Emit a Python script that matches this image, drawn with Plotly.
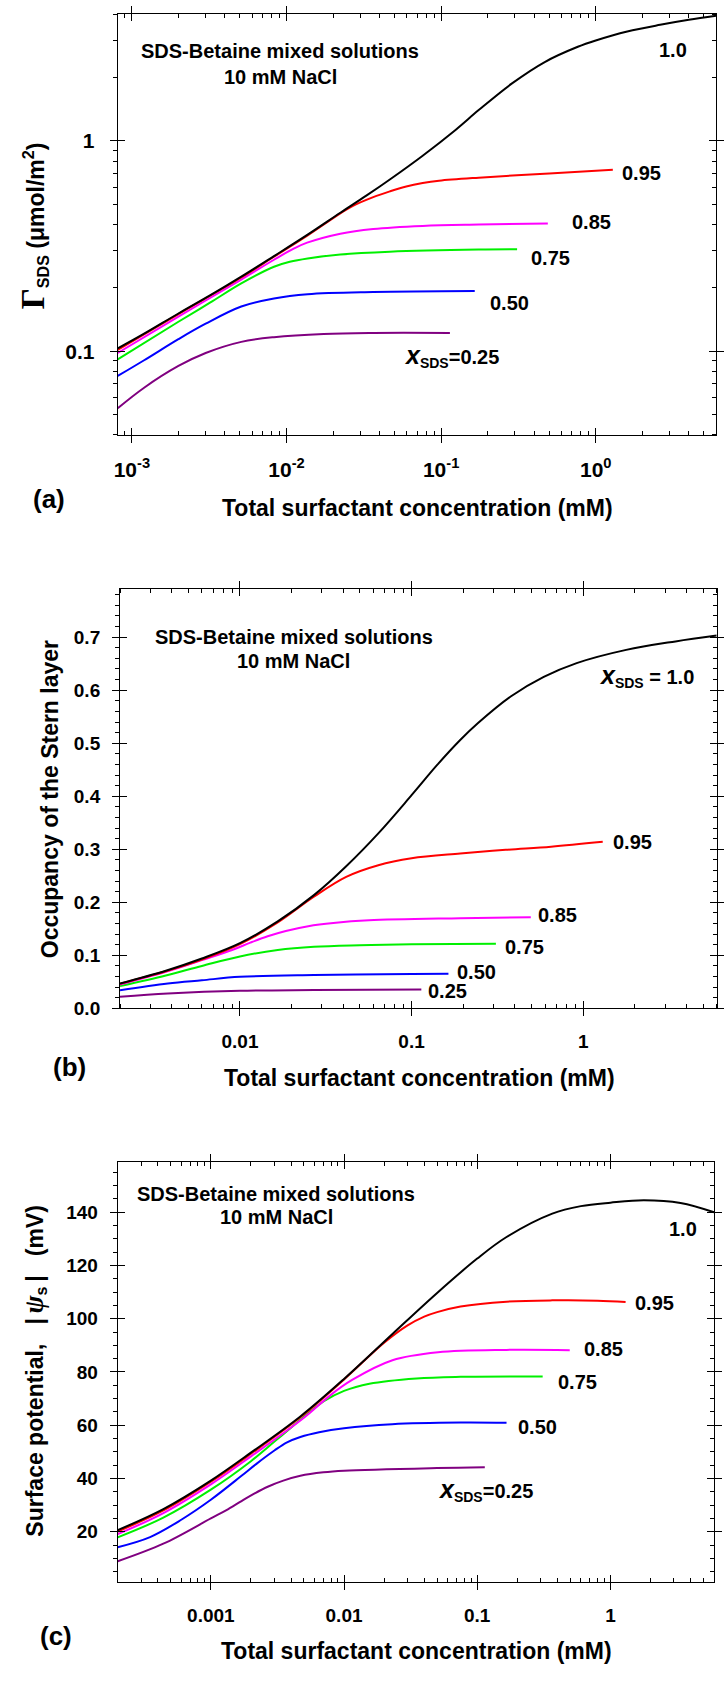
import math
import plotly.graph_objects as go

W, H = 724, 1686
FONT = "Liberation Sans, Arial, Helvetica, sans-serif"
SERIF = "Liberation Serif, Times New Roman, serif"

# ---------------- data ----------------
series_labels = ["1.0", "0.95", "0.85", "0.75", "0.50", "0.25"]
series_colors = ["#000000", "#ff0000", "#ff00ff", "#00f000", "#0000ff", "#800080"]

# Panel (a): surface excess of SDS, Gamma_SDS (umol/m^2) vs total concentration (mM)
a_x_100 = [0.00081, 0.0012, 0.002, 0.0032, 0.0051, 0.0083, 0.0137, 0.0223, 0.033, 0.0466,
           0.076, 0.1245, 0.175, 0.286, 0.468, 0.766, 1.0, 1.6, 2.61, 4.0, 6.0]
a_y_100 = [0.103, 0.121, 0.151, 0.184, 0.226, 0.283, 0.358, 0.455, 0.550, 0.655,
           0.850, 1.13, 1.40, 1.87, 2.37, 2.80, 3.0, 3.31, 3.56, 3.76, 3.93]
a_x_95 = [0.00081, 0.002, 0.0051, 0.0083, 0.0137, 0.0223, 0.0271, 0.0364, 0.0466, 0.0595,
          0.076, 0.097, 0.175, 0.5, 1.29]
a_y_95 = [0.1015, 0.150, 0.224, 0.281, 0.355, 0.452, 0.492, 0.540, 0.575, 0.607,
          0.630, 0.646, 0.668, 0.700, 0.729]
a_x_85 = [0.00081, 0.002, 0.0051, 0.0083, 0.0112, 0.0136, 0.0223, 0.0364, 0.076, 0.175, 0.49]
a_y_85 = [0.098, 0.146, 0.219, 0.272, 0.308, 0.328, 0.362, 0.381, 0.394, 0.400, 0.405]
a_x_75 = [0.00081, 0.002, 0.0032, 0.0051, 0.0083, 0.0105, 0.0137, 0.0223, 0.0466, 0.175, 0.31]
a_y_75 = [0.0913, 0.138, 0.170, 0.210, 0.252, 0.266, 0.276, 0.288, 0.297, 0.304, 0.305]
a_x_50 = [0.00081, 0.0012, 0.002, 0.003, 0.0051, 0.0083, 0.0137, 0.0364, 0.165]
a_y_50 = [0.0762, 0.0905, 0.114, 0.135, 0.163, 0.178, 0.1865, 0.191, 0.193]
a_x_25 = [0.00081, 0.0012, 0.002, 0.003, 0.0051, 0.0083, 0.0174, 0.0364, 0.114]
a_y_25 = [0.0535, 0.067, 0.085, 0.098, 0.1107, 0.1165, 0.1207, 0.122, 0.122]

# Panel (b): occupancy of the Stern layer
b_x_100 = [0.002, 0.0037, 0.006, 0.01, 0.0166, 0.0271, 0.0416, 0.064, 0.1, 0.141, 0.192,
           0.244, 0.378, 0.589, 0.916, 1.78, 3.45, 6.0]
b_y_100 = [0.047, 0.071, 0.094, 0.123, 0.164, 0.214, 0.268, 0.330, 0.402, 0.459, 0.506,
           0.538, 0.588, 0.625, 0.651, 0.676, 0.692, 0.703]
b_x_95 = [0.002, 0.0037, 0.006, 0.01, 0.0166, 0.0271, 0.0416, 0.064, 0.1, 0.192, 0.354, 0.65, 1.3]
b_y_95 = [0.0465, 0.070, 0.092, 0.121, 0.162, 0.211, 0.248, 0.270, 0.283, 0.292, 0.299, 0.305, 0.314]
b_x_85 = [0.002, 0.0037, 0.006, 0.009, 0.0115, 0.0145, 0.0185, 0.025, 0.035, 0.0565, 0.192, 0.495]
b_y_85 = [0.045, 0.069, 0.091, 0.110, 0.124, 0.136, 0.146, 0.155, 0.161, 0.166, 0.170, 0.172]
b_x_75 = [0.002, 0.0037, 0.006, 0.01, 0.0166, 0.027, 0.05, 0.1, 0.31]
b_y_75 = [0.042, 0.062, 0.080, 0.098, 0.110, 0.116, 0.119, 0.121, 0.122]
b_x_50 = [0.002, 0.0038, 0.006, 0.01, 0.027, 0.1, 0.164]
b_y_50 = [0.0344, 0.047, 0.053, 0.0595, 0.063, 0.065, 0.0655]
b_x_25 = [0.002, 0.0038, 0.01, 0.027, 0.114]
b_y_25 = [0.022, 0.028, 0.0332, 0.0345, 0.0354]

# Panel (c): surface potential |psi_s| (mV)
c_x_100 = [0.0002, 0.00044, 0.001, 0.002, 0.0047, 0.01, 0.023, 0.05, 0.1, 0.166, 0.366,
           0.6, 1.0, 1.78, 3.36, 6.0]
c_y_100 = [20.6, 28.5, 39.2, 49.7, 63.3, 77.4, 94.2, 109.7, 122.6, 130.7, 139.5,
           142.3, 143.6, 144.5, 143.5, 140.0]
c_x_95 = [0.0002, 0.00044, 0.001, 0.002, 0.0047, 0.01, 0.02, 0.03, 0.04, 0.05, 0.075,
          0.166, 0.366, 0.8, 1.3]
c_y_95 = [20.1, 28.0, 38.8, 49.3, 63.0, 77.2, 91.0, 97.5, 100.8, 102.5, 104.6,
          106.4, 106.9, 106.8, 106.3]
c_x_85 = [0.0002, 0.00044, 0.001, 0.002, 0.005, 0.008, 0.0115, 0.0231, 0.0508, 0.166, 0.495]
c_y_85 = [19.1, 27.0, 37.8, 48.3, 62.8, 71.5, 77.0, 84.4, 87.4, 88.3, 88.2]
c_x_75 = [0.0002, 0.00044, 0.001, 0.002, 0.0032, 0.00705, 0.01, 0.0155, 0.035, 0.075, 0.31]
c_y_75 = [17.9, 25.3, 35.8, 46.5, 55.0, 69.0, 72.9, 75.6, 77.6, 78.2, 78.3]
c_x_50 = [0.0002, 0.00035, 0.0006, 0.001, 0.0017, 0.0022, 0.003, 0.0037, 0.0047, 0.0065,
          0.01, 0.023, 0.075, 0.166]
c_y_50 = [14.2, 18.0, 24.5, 32.0, 41.0, 45.5, 50.5, 53.5, 55.6, 57.4,
          58.9, 60.4, 61.0, 60.9]
c_x_25 = [0.0002, 0.00044, 0.001, 0.0013, 0.0017, 0.0021, 0.0027, 0.0035, 0.0047, 0.007,
          0.01, 0.05, 0.114]
c_y_25 = [8.9, 15.5, 25.0, 28.0, 31.5, 34.2, 37.0, 39.2, 41.0, 42.3,
          42.9, 43.9, 44.2]

# tick values / labels
a_xticks = [0.001, 0.01, 0.1, 1]
a_xtick_text = ["10<sup>-3</sup>", "10<sup>-2</sup>", "10<sup>-1</sup>", "10<sup>0</sup>"]
a_yticks = [0.1, 1]
a_ytick_text = ["0.1", "1"]
b_xticks = [0.01, 0.1, 1]
b_xtick_text = ["0.01", "0.1", "1"]
b_yticks = [0.0, 0.1, 0.2, 0.3, 0.4, 0.5, 0.6, 0.7]
b_ytick_text = ["0.0", "0.1", "0.2", "0.3", "0.4", "0.5", "0.6", "0.7"]
c_xticks = [0.001, 0.01, 0.1, 1]
c_xtick_text = ["0.001", "0.01", "0.1", "1"]
c_yticks = [20, 40, 60, 80, 100, 120, 140]
c_ytick_text = ["20", "40", "60", "80", "100", "120", "140"]

xtitle = "Total surfactant concentration (mM)"
info1 = "SDS-Betaine mixed solutions"
info2 = "10 mM NaCl"


# ---------------- helpers ----------------
def log_minor(lo, hi):
    out = []
    for e in range(-5, 2):
        for m in range(2, 10):
            v = m * 10.0 ** e
            if lo <= v <= hi:
                out.append(v)
    return out


def lin_minor(lo, hi, step):
    out = []
    k = 0
    while k * step <= hi + 1e-9:
        v = round(k * step, 6)
        if v >= lo:
            out.append(v)
        k += 1
    return out


fig = go.Figure()

panel_series = [
    [(a_x_25, a_y_25), (a_x_50, a_y_50), (a_x_75, a_y_75), (a_x_85, a_y_85), (a_x_95, a_y_95), (a_x_100, a_y_100)],
    [(b_x_25, b_y_25), (b_x_50, b_y_50), (b_x_75, b_y_75), (b_x_85, b_y_85), (b_x_95, b_y_95), (b_x_100, b_y_100)],
    [(c_x_25, c_y_25), (c_x_50, c_y_50), (c_x_75, c_y_75), (c_x_85, c_y_85), (c_x_95, c_y_95), (c_x_100, c_y_100)],
]
draw_colors = list(reversed(series_colors))

panels = [
    dict(xdom=(115, 720), ydom=(14.3, 437.7), xtype="log",
         xr=[math.log10(0.00081), math.log10(6.0)], ytype="log",
         yr=[math.log10(0.04), math.log10(4.0)],
         xt=a_xticks, xtt=a_xtick_text, yt=a_yticks, ytt=a_ytick_text,
         xmin=log_minor(0.0008, 6.0), ymin=log_minor(0.04, 4.0), fs=21, xso=9, yso=11),
    dict(xdom=(117.3, 720.7), ydom=(593.3, 1015), xtype="log",
         xr=[math.log10(0.002), math.log10(6.0)], ytype="linear", yr=[0, 0.79],
         xt=b_xticks, xtt=b_xtick_text, yt=b_yticks, ytt=b_ytick_text,
         xmin=log_minor(0.002, 6.0), ymin=lin_minor(0, 0.79, 0.02), fs=19, xso=9, yso=8),
    dict(xdom=(115, 718), ydom=(1169.3, 1592.7), xtype="log",
         xr=[math.log10(0.0002), math.log10(6.0)], ytype="linear", yr=[1, 159],
         xt=c_xticks, xtt=c_xtick_text, yt=c_yticks, ytt=c_ytick_text,
         xmin=log_minor(0.0002, 6.0), ymin=lin_minor(1, 159, 5), fs=19, xso=9, yso=8),
]

layout = dict(width=W, height=H, margin=dict(l=0, r=0, t=0, b=0),
              paper_bgcolor="white", plot_bgcolor="white", showlegend=False,
              font=dict(family=FONT, color="#000"))

common = dict(showgrid=False, zeroline=False, linecolor="#000", linewidth=1,
              tickcolor="#000", tickwidth=1)

for i, p in enumerate(panels):
    n = i + 1
    xr_name = "x" if n == 1 else f"x{n}"
    yr_name = "y" if n == 1 else f"y{n}"
    xkey = "xaxis" if n == 1 else f"xaxis{n}"
    ykey = "yaxis" if n == 1 else f"yaxis{n}"
    xdom = [p["xdom"][0] / W, p["xdom"][1] / W]
    ydom = [1 - p["ydom"][1] / H, 1 - p["ydom"][0] / H]
    tf = dict(family=FONT, size=p["fs"], color="#000", weight="bold")

    layout[xkey] = dict(domain=xdom, type=p["xtype"], range=p["xr"], anchor=yr_name,
                        tickmode="array", tickvals=p["xt"], ticktext=p["xtt"],
                        ticks="outside", ticklen=7, mirror="ticks", showline=True,
                        minor=dict(tickmode="array", tickvals=p["xmin"], ticks="inside",
                                   ticklen=4, tickcolor="#000", tickwidth=1, showgrid=False),
                        tickfont=tf, ticklabelstandoff=p["xso"], **common)
    layout[ykey] = dict(domain=ydom, type=p["ytype"], range=p["yr"], anchor=xr_name,
                        tickmode="array", tickvals=p["yt"], ticktext=p["ytt"],
                        ticks="outside", ticklen=7, mirror=True, showline=True,
                        minor=dict(tickmode="array", tickvals=p["ymin"], ticks="outside",
                                   ticklen=4, tickcolor="#000", tickwidth=1, showgrid=False),
                        tickfont=tf, ticklabelstandoff=p["yso"], **common)
    # overlay axes: major ticks crossing the frame, minor ticks inside on the right
    layout[f"xaxis{n + 3}"] = dict(overlaying=xr_name, anchor=yr_name, side="bottom",
                                   type=p["xtype"], range=p["xr"], tickmode="array",
                                   tickvals=p["xt"], ticks="inside", ticklen=7,
                                   mirror="ticks", showline=False, showticklabels=False,
                                   **common)
    layout[f"yaxis{n + 3}"] = dict(overlaying=yr_name, anchor=xr_name, side="left",
                                   type=p["ytype"], range=p["yr"], tickmode="array",
                                   tickvals=p["yt"], ticks="inside", ticklen=7,
                                   mirror="ticks", showline=False, showticklabels=False,
                                   **common)
    layout[f"yaxis{n + 6}"] = dict(overlaying=yr_name, anchor=xr_name, side="right",
                                   type=p["ytype"], range=p["yr"], tickmode="array",
                                   tickvals=p["yt"], ticks="outside", ticklen=7,
                                   showline=False, showticklabels=False,
                                   minor=dict(tickmode="array", tickvals=p["ymin"],
                                              ticks="inside", ticklen=4, tickcolor="#000",
                                              tickwidth=1, showgrid=False),
                                   **common)
    for xa, ya in [(f"x{n + 3}", yr_name), (xr_name, f"y{n + 3}"), (xr_name, f"y{n + 6}")]:
        fig.add_trace(go.Scatter(x=[None], y=[None], xaxis=xa, yaxis=ya, mode="lines",
                                 showlegend=False, hoverinfo="skip"))
    for (xs, ys), col in zip(panel_series[i], draw_colors):
        fig.add_trace(go.Scatter(x=xs, y=ys, mode="lines", xaxis=xr_name, yaxis=yr_name,
                                 line=dict(color=col, width=2, shape="spline", smoothing=1.0),
                                 showlegend=False, hoverinfo="skip"))

annotations = []


def ann(text, x, y, size, xanchor="center", yanchor="middle", angle=0):
    annotations.append(dict(text=text, x=x / W, y=1 - y / H, xref="paper", yref="paper",
                            xanchor=xanchor, yanchor=yanchor, showarrow=False,
                            textangle=angle,
                            font=dict(family=FONT, size=size, color="#000", weight="bold")))


xsub = "<span style='font-size:25px'><i>x</i></span><sub>SDS</sub>"

# panel (a)
ann(info1, 279.5, 51.5, 20)
ann(info2, 280, 78, 20)
ann(series_labels[0], 676, 50, 20)
ann(series_labels[1], 644.5, 174, 20)
ann(series_labels[2], 594, 223, 20)
ann(series_labels[3], 553, 260, 20)
ann(series_labels[4], 511.5, 305, 20)
ann(xsub + "=" + series_labels[5], 503, 358, 20, xanchor="right")
ann("(a)", 46, 502, 26)
ann(xtitle, 418, 511, 23)
ann("<span style='font-family:" + SERIF + ";font-size:33px'>Γ</span><sub>SDS</sub> (μmol/m<sup>2</sup>)",
    30, 227, 23, angle=-90)

# panel (b)
ann(info1, 293, 641.5, 20)
ann(info2, 293, 665, 20)
ann(xsub + " = " + series_labels[0], 700, 680, 20, xanchor="right")
ann(series_labels[1], 635.5, 847.5, 20)
ann(series_labels[2], 560, 920.7, 20)
ann(series_labels[3], 526, 953, 20)
ann(series_labels[4], 478, 978.6, 20)
ann(series_labels[5], 448.5, 997.5, 20)
ann("(b)", 66.7, 1074, 26)
ann(xtitle, 420, 1085, 23)
ann("Occupancy of the Stern layer", 46, 804, 23, angle=-90)

# panel (c)
ann(info1, 275.5, 1201.7, 20)
ann(info2, 275.5, 1225, 20)
ann(series_labels[0], 687, 1237.3, 20)
ann(series_labels[1], 658, 1311.3, 20)
ann(series_labels[2], 606, 1358.3, 20)
ann(series_labels[3], 579.5, 1391.5, 20)
ann(series_labels[4], 539.4, 1436.6, 20)
ann(xsub + "=" + series_labels[5], 536.5, 1500, 20, xanchor="right")
ann("(c)", 52.5, 1646.6, 26)
ann(xtitle, 417, 1661.5, 23)
ann("Surface potential,\u00a0\u00a0\u00a0|\u2009<span style='font-family:" + SERIF
    + ";font-size:27px'><i>ψ</i></span><sub>s</sub>\u2009|\u00a0\u00a0\u00a0(mV)",
    31, 1380, 23, angle=-90)

layout["annotations"] = annotations
fig.update_layout(**layout)
fig.write_html("out.html")
